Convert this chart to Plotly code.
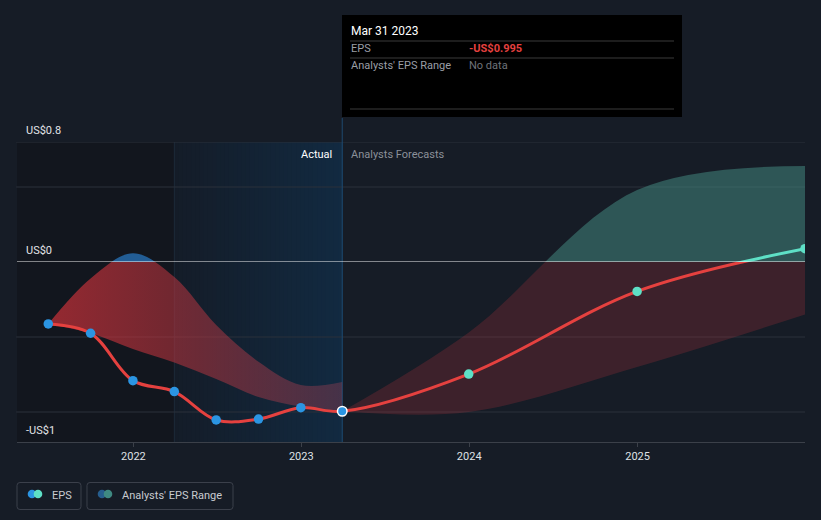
import plotly.graph_objects as go
import pandas as pd

# ---------------- data ----------------
actual_dates = ["2021-06-30", "2021-09-30", "2021-12-31", "2022-03-31",
                "2022-06-30", "2022-09-30", "2022-12-31", "2023-03-31"]
actual_eps = [-0.413, -0.475, -0.791, -0.864, -1.053, -1.047, -0.971, -0.995]
past_range_upper = [-0.413, -0.11, 0.058, -0.10, -0.42, -0.665, -0.82, -0.80]
past_range_lower = [-0.413, -0.475, -0.58, -0.67, -0.78, -0.90, -0.964, -0.995]

forecast_dates = ["2023-03-31", "2023-12-31", "2024-12-31", "2025-12-31"]
forecast_eps = [-0.995, -0.747, -0.196, 0.089]
forecast_upper = [-0.995, -0.47, 0.48, 0.64]
forecast_lower = [-0.995, -1.0, -0.70, -0.35]

y_label_vals = [0.8, 0.0, -1.0]
y_label_text = ["US$0.8", "US$0", "-US$1"]
grid_vals = [0.8, 0.5, -0.5, -1.0]
x_tick_vals = ["2022-01-01", "2023-01-01", "2024-01-01", "2025-01-01"]
x_tick_text = ["2022", "2023", "2024", "2025"]
x_range = ["2021-04-23", "2025-12-31"]
y_range = [-1.2, 0.8]
actual_window_start = "2022-03-31"
last_actual = actual_dates[-1]

# ---------------- geometry ----------------
W, H = 821, 520
L, R, T, B = 17, 16, 142, 78
PW, PH = W - L - R, H - T - B
split = (0 - y_range[0]) / (y_range[1] - y_range[0])


def px(xp):
    return (xp - L) / PW


def py(yp):
    return (H - B - yp) / PH


BG = "#161c26"
RED = "#e5413f"
TEAL = "#5ee0c6"
BLUE = "#2b95e3"
FONT = "Roboto"

fig = go.Figure()

eps_dates = actual_dates + forecast_dates[1:]
eps_vals = actual_eps + forecast_eps[1:]
mcolors = [BLUE] * len(actual_dates) + [TEAL] * (len(forecast_dates) - 1)
mline = ["rgba(0,0,0,0)"] * len(eps_dates)
mline[len(actual_dates) - 1] = "white"

for xa, ya, top in [("x", "y", False), ("x2", "y2", True)]:
    # historical analyst range
    fig.add_trace(go.Scatter(x=actual_dates, y=past_range_lower, mode="lines",
                             line=dict(width=0, shape="spline"), xaxis=xa, yaxis=ya,
                             showlegend=False, hoverinfo="skip"))
    if top:
        fig.add_trace(go.Scatter(x=actual_dates, y=past_range_upper, mode="lines",
                                 line=dict(width=0, shape="spline"), fill="tonexty",
                                 fillcolor="rgba(36,100,160,0.92)", xaxis=xa, yaxis=ya,
                                 showlegend=False, hoverinfo="skip"))
    else:
        fig.add_trace(go.Scatter(x=actual_dates, y=past_range_upper, mode="lines",
                                 line=dict(width=0, shape="spline"), fill="tonexty",
                                 fillgradient=dict(type="horizontal",
                                                   colorscale=[[0, "rgba(200,48,56,0.72)"],
                                                               [0.5, "rgba(195,55,65,0.5)"],
                                                               [1, "rgba(190,70,90,0.3)"]]),
                                 xaxis=xa, yaxis=ya, showlegend=False, hoverinfo="skip"))
    # forecast analyst range
    fig.add_trace(go.Scatter(x=forecast_dates, y=forecast_lower, mode="lines",
                             line=dict(width=0, shape="spline"), xaxis=xa, yaxis=ya,
                             showlegend=False, hoverinfo="skip"))
    fig.add_trace(go.Scatter(x=forecast_dates, y=forecast_upper, mode="lines",
                             line=dict(width=0, shape="spline"), fill="tonexty",
                             fillcolor="rgba(70,144,134,0.5)" if top else "rgba(200,55,62,0.22)",
                             xaxis=xa, yaxis=ya, showlegend=False, hoverinfo="skip"))
    # EPS line
    fig.add_trace(go.Scatter(x=eps_dates, y=eps_vals, mode="lines",
                             line=dict(width=3, shape="spline", color=TEAL if top else RED),
                             xaxis=xa, yaxis=ya, showlegend=False, hoverinfo="skip"))
    fig.add_trace(go.Scatter(x=eps_dates, y=eps_vals, mode="markers",
                             marker=dict(size=9.5, color=mcolors, line=dict(color=mline, width=1.5)),
                             cliponaxis=True, xaxis=xa, yaxis=ya, showlegend=False, hoverinfo="skip"))

# ---------------- shapes ----------------
shapes = []
# dark past region
shapes.append(dict(type="rect", xref="x", yref="paper", x0=x_range[0], x1=actual_window_start,
                   y0=0, y1=1, fillcolor="#12161e", line=dict(width=0), layer="below"))
# actual-window gradient (overlapping slices to avoid seams)
n = 40
t0 = pd.Timestamp(actual_window_start)
t1 = pd.Timestamp(last_actual)
c0 = (20, 28, 40)
c1 = (18, 42, 65)
for i in range(n):
    a = t0 + (t1 - t0) * i / n
    f = (i + 0.5) / n
    col = tuple(int(round(c0[k] + (c1[k] - c0[k]) * f)) for k in range(3))
    shapes.append(dict(type="rect", xref="x", yref="paper", x0=a.isoformat(), x1=t1.isoformat(),
                       y0=0, y1=1, fillcolor="rgb(%d,%d,%d)" % col, line=dict(width=0),
                       layer="below"))
shapes.append(dict(type="line", xref="x", yref="paper", x0=actual_window_start,
                   x1=actual_window_start, y0=0, y1=1, line=dict(color="#1d2a3a", width=1),
                   layer="below"))
# grid lines
for g in grid_vals:
    yr = "y2" if g > 0 else "y"
    shapes.append(dict(type="line", xref="paper", yref=yr, x0=-0.001, x1=1, y0=g, y1=g,
                       line=dict(color="#2b313b", width=1), layer="below"))
# hover line
shapes.append(dict(type="line", xref="x", yref="paper", x0=last_actual, x1=last_actual,
                   y0=0, y1=py(118), line=dict(color="#1e4a70", width=1), layer="below"))
# zero line
shapes.append(dict(type="line", xref="paper", yref="y2", x0=0, x1=1, y0=0, y1=0,
                   line=dict(color="rgba(255,255,255,0.95)", width=1.2), layer="above"))
# tooltip box
shapes.append(dict(type="rect", xref="paper", yref="paper", x0=px(342), x1=px(682),
                   y0=py(117), y1=py(15), fillcolor="#000000", line=dict(width=0), layer="above"))
for yy in [41, 58, 109]:
    shapes.append(dict(type="line", xref="paper", yref="paper", x0=px(350), x1=px(674),
                       y0=py(yy), y1=py(yy), line=dict(color="#3a3a3a", width=1), layer="above"))


def rounded_rect(x0, y0, x1, y1, r):
    # pixel coords -> paper path with rounded corners
    X = lambda v: px(v)
    Y = lambda v: py(v)
    return ("M %f,%f L %f,%f Q %f,%f %f,%f L %f,%f Q %f,%f %f,%f L %f,%f Q %f,%f %f,%f "
            "L %f,%f Q %f,%f %f,%f Z") % (
        X(x0 + r), Y(y0), X(x1 - r), Y(y0), X(x1), Y(y0), X(x1), Y(y0 + r),
        X(x1), Y(y1 - r), X(x1), Y(y1), X(x1 - r), Y(y1),
        X(x0 + r), Y(y1), X(x0), Y(y1), X(x0), Y(y1 - r),
        X(x0), Y(y0 + r), X(x0), Y(y0), X(x0 + r), Y(y0))


# legend boxes
for xa, xb in [(17, 81), (87, 233)]:
    shapes.append(dict(type="path", xref="paper", yref="paper",
                       path=rounded_rect(xa, 482.5, xb, 509.5, 3),
                       fillcolor="rgba(0,0,0,0)", line=dict(color="#3b404b", width=1),
                       layer="above"))
for cx, col in [(32, BLUE), (38, TEAL), (102, "#265e8e"), (108, "#3f8a82")]:
    r = 4.3
    shapes.append(dict(type="circle", xref="paper", yref="paper", x0=px(cx - r), x1=px(cx + r),
                       y0=py(494 + r), y1=py(494 - r), fillcolor=col, line=dict(width=0),
                       layer="above"))

# ---------------- annotations ----------------
ann = []
for v, txt in zip(y_label_vals, y_label_text):
    yr = "y" if v < 0 else "y2"
    shift = -18 if v < 0 else 12
    ann.append(dict(text=txt, xref="paper", x=px(24), xanchor="left", yref=yr, y=v,
                    yshift=shift, yanchor="middle", showarrow=False,
                    font=dict(family=FONT, size=11, color="#e2e4e8")))
ann.append(dict(text="Actual", xref="x", x=last_actual, xshift=-8, xanchor="right",
                yref="paper", y=py(154), yanchor="middle", showarrow=False,
                font=dict(family=FONT, size=11, color="#ffffff")))
ann.append(dict(text="Analysts Forecasts", xref="x", x=last_actual, xshift=7, xanchor="left",
                yref="paper", y=py(154), yanchor="middle", showarrow=False,
                font=dict(family=FONT, size=11, color="#8b9099")))


def tip(text, x, y, color, size=11, bold=False):
    if bold:
        text = "<b>" + text + "</b>"
    ann.append(dict(text=text, xref="paper", x=px(x), xanchor="left", yref="paper", y=py(y),
                    yanchor="middle", showarrow=False,
                    font=dict(family=FONT, size=size, color=color)))


d = pd.Timestamp(last_actual)
tip(d.strftime("%b %d %Y"), 349, 31, "#ffffff", size=12)
tip("EPS", 349, 49, "#9a9ea6")
tip("-US$%.3f" % abs(actual_eps[-1]), 467, 49, "#e5403f", bold=True)
tip("Analysts' EPS Range", 349, 66, "#9a9ea6")
tip("No data", 467, 66, "#6f737a")
tip("EPS", 50, 495, "#c8cbd0")
tip("Analysts' EPS Range", 120, 495, "#c8cbd0")

fig.update_layout(
    width=W, height=H, margin=dict(l=L, r=R, t=T, b=B),
    paper_bgcolor=BG, plot_bgcolor=BG, showlegend=False,
    xaxis=dict(domain=[0, 1], anchor="y", type="date", range=x_range,
               tickvals=x_tick_vals, ticktext=x_tick_text, ticks="outside", ticklen=4,
               tickcolor="#3b4049", showgrid=False, zeroline=False, showline=True,
               linecolor="#3b4049", linewidth=1,
               tickfont=dict(family=FONT, size=11, color="#dfe1e5")),
    xaxis2=dict(matches="x", anchor="y2", visible=False, range=x_range, type="date"),
    yaxis=dict(domain=[0, split], range=[y_range[0], 0], showgrid=False, zeroline=False,
               showticklabels=False, ticks=""),
    yaxis2=dict(domain=[split, 1], range=[0, y_range[1]], showgrid=False, zeroline=False,
                showticklabels=False, ticks=""),
    shapes=shapes, annotations=ann,
)

fig.write_html("out.html")
